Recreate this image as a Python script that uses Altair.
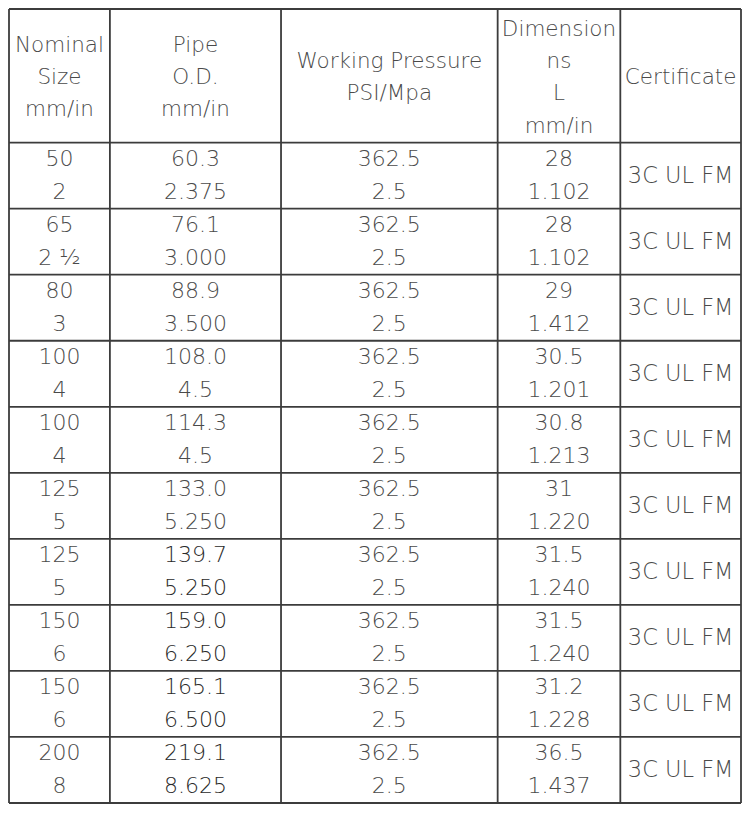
import altair as alt
import pandas as pd

# ---------------- data ----------------
headers = [
    ["Nominal", "Size", "mm/in"],
    ["Pipe", "O.D.", "mm/in"],
    ["Working Pressure", "PSI/Mpa"],
    ["Dimension", "ns", "L", "mm/in"],
    ["Certificate"],
]
nominal_mm = ["50", "65", "80", "100", "100", "125", "125", "150", "150", "200"]
nominal_in = ["2", "2 ½", "3", "4", "4", "5", "5", "6", "6", "8"]
od_mm = ["60.3", "76.1", "88.9", "108.0", "114.3", "133.0", "139.7", "159.0", "165.1", "219.1"]
od_in = ["2.375", "3.000", "3.500", "4.5", "4.5", "5.250", "5.250", "6.250", "6.500", "8.625"]
pressure_psi = ["362.5", "362.5", "362.5", "362.5", "362.5", "362.5", "362.5", "362.5", "362.5", "362.5"]
pressure_mpa = ["2.5", "2.5", "2.5", "2.5", "2.5", "2.5", "2.5", "2.5", "2.5", "2.5"]
dim_mm = ["28", "28", "29", "30.5", "30.8", "31", "31.5", "31.5", "31.2", "36.5"]
dim_in = ["1.102", "1.102", "1.412", "1.201", "1.213", "1.220", "1.240", "1.240", "1.228", "1.437"]
certificate = ["3C UL FM"] * 10

# ---------------- layout ----------------
W, H = 734, 797
X_DOMAIN = [6, 746]
Y_DOMAIN = [7, 809]
col_edges = [6, 108, 281, 500, 624, 746]
header_top, header_bottom = 7, 142
n_rows = len(nominal_mm)
row_h = (Y_DOMAIN[1] - header_bottom) / n_rows
row_edges = [header_bottom + i * row_h for i in range(n_rows + 1)]
col_centers = [(col_edges[i] + col_edges[i + 1]) / 2 for i in range(5)]
header_center = 77
header_lh = 32.5
HEAD_FS, CERT_FS, NUM_FS = 21.5, 22.5, 22

TEXT = "#4a4a4a"
DARK = "#2a2a2a"
LINE = "#3c3c3c"

xs = alt.Scale(domain=X_DOMAIN, range=[1, W - 1])
ys = alt.Scale(domain=Y_DOMAIN, range=[1, H - 2])

rows = []
for c, lines in enumerate(headers):
    n = len(lines)
    for i, t in enumerate(lines):
        rows.append(dict(x=col_centers[c], y=header_center + (i - (n - 1) / 2) * header_lh,
                         label=t, color=TEXT, fs=HEAD_FS))

pairs = [(nominal_mm, nominal_in), (od_mm, od_in), (pressure_psi, pressure_mpa), (dim_mm, dim_in)]
for r in range(n_rows):
    top = row_edges[r]
    for c, (a, b) in enumerate(pairs):
        col = DARK if (c == 1 and r >= 6) else TEXT
        rows.append(dict(x=col_centers[c], y=top + row_h * 0.25, label=a[r], color=col, fs=NUM_FS))
        rows.append(dict(x=col_centers[c], y=top + row_h * 0.75, label=b[r], color=col, fs=NUM_FS))
    rows.append(dict(x=col_centers[4], y=top + row_h * 0.5, label=certificate[r], color=TEXT, fs=CERT_FS))

text_df = pd.DataFrame(rows)

h_df = pd.DataFrame({"y": [header_top] + row_edges, "x": X_DOMAIN[0], "x2": X_DOMAIN[1]})
v_df = pd.DataFrame({"x": col_edges, "y": header_top, "y2": Y_DOMAIN[1]})

hrules = alt.Chart(h_df).mark_rule(color=LINE, strokeWidth=1.8).encode(
    x=alt.X("x:Q", scale=xs, axis=None), x2="x2:Q", y=alt.Y("y:Q", scale=ys, axis=None))
vrules = alt.Chart(v_df).mark_rule(color=LINE, strokeWidth=1.8).encode(
    x=alt.X("x:Q", scale=xs, axis=None), y=alt.Y("y:Q", scale=ys, axis=None), y2="y2:Q")

text = alt.Chart(text_df).mark_text(font="DejaVu Sans", fontWeight=200,
                                    baseline="middle", align="center").encode(
    x=alt.X("x:Q", scale=xs, axis=None), y=alt.Y("y:Q", scale=ys, axis=None),
    text="label:N", color=alt.Color("color:N", scale=None),
    size=alt.Size("fs:Q", scale=None))

chart = alt.layer(hrules, vrules, text).properties(
    width=W, height=H, padding=0, autosize=alt.AutoSizeParams(type="none")
).configure_view(stroke=None)

chart.save("out.html", embed_options={"renderer": "svg", "actions": False})
